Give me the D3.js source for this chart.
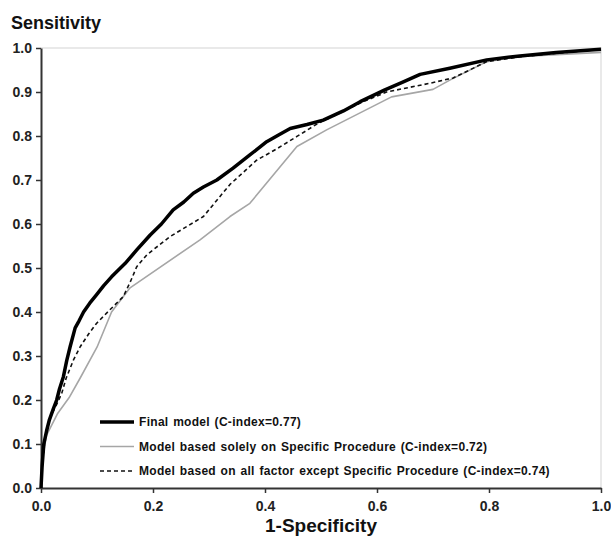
<!DOCTYPE html>
<html>
<head>
<meta charset="utf-8">
<script src="https://cdn.jsdelivr.net/npm/d3@7"></script>
<style>
    body { margin: 0; background: #fff; }
    svg { display: block; font-family: "Liberation Sans", Arial, sans-serif; }
</style>
</head>
<body>
<div id="chart"></div>
<script>
// ROC curves, values: [1-specificity, sensitivity]
var finalModel = [
    [0, 0], [0.002, 0.05], [0.005, 0.1], [0.01, 0.13], [0.015, 0.155], [0.022, 0.18],
    [0.028, 0.2], [0.033, 0.225], [0.04, 0.253], [0.046, 0.29], [0.052, 0.321], [0.061, 0.364],
    [0.068, 0.38], [0.076, 0.40], [0.087, 0.42], [0.099, 0.439], [0.112, 0.46], [0.126, 0.48],
    [0.15, 0.51], [0.171, 0.541], [0.195, 0.575], [0.215, 0.60], [0.236, 0.632], [0.255, 0.65],
    [0.272, 0.67], [0.29, 0.684], [0.314, 0.70], [0.343, 0.727], [0.373, 0.757], [0.403, 0.787],
    [0.425, 0.803], [0.445, 0.817], [0.475, 0.826], [0.504, 0.836], [0.54, 0.857], [0.57, 0.878],
    [0.614, 0.905], [0.645, 0.922], [0.677, 0.94], [0.73, 0.954], [0.796, 0.973], [0.855, 0.982],
    [0.92, 0.99], [1.0, 0.997]
];
var procedureModel = [
    [0, 0], [0.003, 0.07], [0.01, 0.12], [0.03, 0.17], [0.05, 0.205], [0.07, 0.25],
    [0.1, 0.32], [0.126, 0.40], [0.159, 0.455], [0.284, 0.564], [0.3375, 0.617], [0.373, 0.647],
    [0.457, 0.776], [0.51, 0.814], [0.626, 0.889], [0.70, 0.906], [0.73, 0.927], [0.796, 0.969],
    [0.85, 0.98], [1.0, 0.99]
];
var otherFactorsModel = [
    [0, 0], [0.003, 0.06], [0.007, 0.11], [0.016, 0.16], [0.028, 0.19], [0.037, 0.215],
    [0.045, 0.25], [0.058, 0.291], [0.07, 0.321], [0.085, 0.35], [0.099, 0.374], [0.123, 0.405],
    [0.147, 0.435], [0.16, 0.47], [0.171, 0.503], [0.189, 0.53], [0.23, 0.571], [0.29, 0.617],
    [0.3375, 0.69], [0.385, 0.745], [0.42, 0.77], [0.457, 0.799], [0.495, 0.829], [0.53, 0.85],
    [0.57, 0.875], [0.617, 0.90], [0.695, 0.92], [0.736, 0.932], [0.796, 0.969], [0.855, 0.98],
    [0.92, 0.988], [1.0, 0.997]
];
var legendLabels = [
    "Final model (C-index=0.77)",
    "Model based solely on Specific Procedure (C-index=0.72)",
    "Model based on all factor except  Specific Procedure (C-index=0.74)"
];
var xTicks = [0, 0.2, 0.4, 0.6, 0.8, 1.0];
var yTicks = [0, 0.1, 0.2, 0.3, 0.4, 0.5, 0.6, 0.7, 0.8, 0.9, 1.0];

var width = 611, height = 540;
var margin = {top: 48, right: 10, bottom: 52, left: 41};

var svg = d3.select("#chart").append("svg")
    .attr("width", width)
    .attr("height", height);

var x = d3.scaleLinear().domain([0, 1]).range([margin.left, width - margin.right]);
var y = d3.scaleLinear().domain([0, 1]).range([height - margin.bottom, margin.top]);

// light frame on top and right
svg.append("path")
    .attr("d", "M" + x(0) + "," + y(1) + "H" + x(1) + "V" + y(0))
    .attr("fill", "none")
    .attr("stroke", "#e2e2e2")
    .attr("stroke-width", 1.5);

var xAxis = svg.append("g")
    .attr("transform", "translate(0," + y(0) + ")")
    .call(d3.axisBottom(x).tickValues(xTicks).tickSize(5).tickSizeOuter(0).tickFormat(d3.format(".1f")));

var yAxis = svg.append("g")
    .attr("transform", "translate(" + x(0) + ",0)")
    .call(d3.axisLeft(y).tickValues(yTicks).tickSize(5).tickSizeOuter(0).tickFormat(d3.format(".1f")));

[xAxis, yAxis].forEach(function (a) {
    a.select(".domain").attr("stroke", "#333").attr("stroke-width", 2);
    a.selectAll(".tick line").attr("stroke", "#333").attr("stroke-width", 1.5);
    a.selectAll(".tick text")
        .style("font-family", "'Liberation Sans', Arial, sans-serif")
        .style("font-size", "14px")
        .style("font-weight", "bold")
        .attr("fill", "#222");
});
xAxis.selectAll(".tick text").attr("dy", "1.1em");
yAxis.selectAll(".tick text").attr("x", -9);

var line = d3.line()
    .x(function (d) { return x(d[0]); })
    .y(function (d) { return y(d[1]); });

var series = [
    {data: procedureModel, color: "#a6a6a6", w: 1.6, dash: null},
    {data: otherFactorsModel, color: "#111", w: 1.6, dash: "4,3"},
    {data: finalModel, color: "#000", w: 3.5, dash: null}
];

series.forEach(function (s) {
    svg.append("path")
        .datum(s.data)
        .attr("d", line)
        .attr("fill", "none")
        .attr("stroke", s.color)
        .attr("stroke-width", s.w)
        .attr("stroke-dasharray", s.dash)
        .attr("stroke-linejoin", "round");
});

// legend, in the order of the labels
var legendStyle = [series[2], series[0], series[1]];
var legend = svg.append("g").attr("transform", "translate(100,422)");
legendLabels.forEach(function (label, i) {
    var s = legendStyle[i];
    legend.append("line")
        .attr("x1", 0).attr("x2", 34)
        .attr("y1", i * 24.5).attr("y2", i * 24.5)
        .attr("stroke", s.color)
        .attr("stroke-width", s.w)
        .attr("stroke-dasharray", s.dash);
    legend.append("text")
        .attr("x", 39)
        .attr("y", i * 24.5 + 4)
        .style("font-size", "12px")
        .style("font-weight", "bold")
        .style("letter-spacing", "0.3px")
        .style("word-spacing", "1px")
        .attr("fill", "#111")
        .text(label);
});

svg.append("text")
    .attr("x", 11)
    .attr("y", 29)
    .style("font-size", "18px")
    .style("font-weight", "bold")
    .attr("fill", "#111")
    .text("Sensitivity");

svg.append("text")
    .attr("x", (x(0) + x(1)) / 2)
    .attr("y", 532)
    .style("text-anchor", "middle")
    .style("font-size", "19px")
    .style("font-weight", "bold")
    .attr("fill", "#111")
    .text("1-Specificity");
</script>
</body>
</html>
